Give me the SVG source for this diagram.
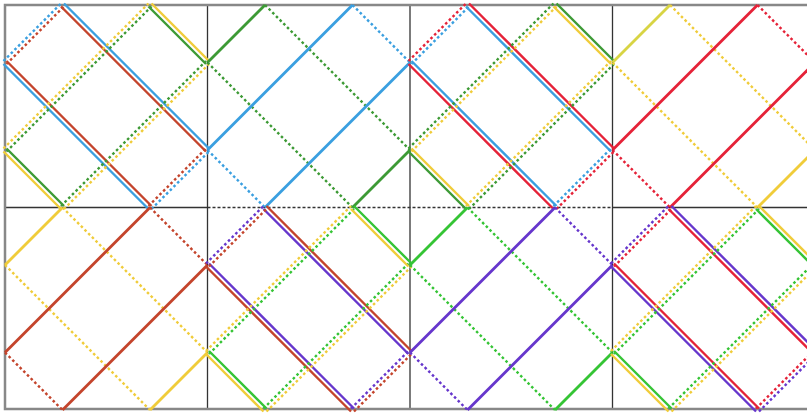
<svg xmlns="http://www.w3.org/2000/svg" xmlns:xlink="http://www.w3.org/1999/xlink" width="807" height="414" viewBox="0 0 807 414">
<style>
use{fill:none}
.s{stroke-width:2.4}
.s1{stroke-width:2.8}
.d{stroke-width:2.4;stroke-dasharray:2.6 2.6}
.bl{stroke:#3a9fe0}
.br{stroke:#c4442c}
.rd{stroke:#e52238}
.dg{stroke:#3d9a35}
.lg{stroke:#35c435}
.ye{stroke:#f0cc3a}
.yo{stroke:#d8d444}
.pu{stroke:#6636cc}
.grid{stroke:#333;stroke-width:1.3;fill:none}
.border{stroke:#888;stroke-width:2.5;fill:none}
</style>
<defs>
<path id="A1" d="M57.5,0L202.5,145"/>
<path id="A2" d="M0,57.5L145,202.5"/>
<path id="A3" d="M0,57.5L57.5,0"/>
<path id="A4" d="M145,202.5L202.5,145"/>
<path id="B1" d="M0,145L145,0"/>
<path id="B2" d="M57.5,202.5L202.5,57.5"/>
<path id="B3" d="M145,0L202.5,57.5"/>
<path id="B4" d="M0,145L57.5,202.5"/>
</defs>
<rect width="807" height="414" fill="#fff"/>
<g id="grid">
<line class="grid" x1="207.5" y1="5" x2="207.5" y2="409"/>
<line class="grid" x1="410" y1="5" x2="410" y2="409"/>
<line class="grid" x1="612.5" y1="5" x2="612.5" y2="409"/>
<line class="grid" x1="5" y1="207.5" x2="207.5" y2="207.5"/>
<line class="grid" x1="207.5" y1="207.5" x2="612.5" y2="207.5" stroke-dasharray="3 2" stroke-width="1"/>
<line class="grid" x1="612.5" y1="207.5" x2="807" y2="207.5"/>
<path class="border" d="M807,5H5V409H807"/>
</g>
<g id="connectors">
<g id="cell1" transform="translate(5,5)">
<use href="#A1" class="s bl" x="1.5" y="-1.5"/><use href="#A1" class="s br" x="-1.5" y="1.5"/>
<use href="#A2" class="s bl" x="-1.5" y="1.5"/><use href="#A2" class="s br" x="1.5" y="-1.5"/>
<use href="#A3" class="d bl" x="-1.5" y="-1.5"/><use href="#A3" class="d br" x="1.5" y="1.5"/>
<use href="#A4" class="d bl" x="1.5" y="1.5"/><use href="#A4" class="d br" x="-1.5" y="-1.5"/>
<use href="#B1" class="d ye" x="-1.5" y="-1.5"/><use href="#B1" class="d dg" x="1.5" y="1.5"/>
<use href="#B2" class="d ye" x="1.5" y="1.5"/><use href="#B2" class="d dg" x="-1.5" y="-1.5"/>
<use href="#B3" class="s ye" x="1.5" y="-1.5"/><use href="#B3" class="s dg" x="-1.5" y="1.5"/>
<use href="#B4" class="s ye" x="-1.5" y="1.5"/><use href="#B4" class="s dg" x="1.5" y="-1.5"/>
</g>
<g id="cell2" transform="translate(207.5,5)">
<use href="#A1" class="d dg"/><use href="#A2" class="d dg"/>
<use href="#A3" class="s1 dg"/><use href="#A4" class="s1 dg"/>
<use href="#B1" class="s1 bl"/><use href="#B2" class="s1 bl"/>
<use href="#B3" class="d bl"/><use href="#B4" class="d bl"/>
</g>
<g id="cell3" transform="translate(410,5)">
<use href="#A1" class="s rd" x="1.5" y="-1.5"/><use href="#A1" class="s bl" x="-1.5" y="1.5"/>
<use href="#A2" class="s rd" x="-1.5" y="1.5"/><use href="#A2" class="s bl" x="1.5" y="-1.5"/>
<use href="#A3" class="d rd" x="-1.5" y="-1.5"/><use href="#A3" class="d bl" x="1.5" y="1.5"/>
<use href="#A4" class="d rd" x="1.5" y="1.5"/><use href="#A4" class="d bl" x="-1.5" y="-1.5"/>
<use href="#B1" class="d dg" x="-1.5" y="-1.5"/><use href="#B1" class="d ye" x="1.5" y="1.5"/>
<use href="#B2" class="d dg" x="1.5" y="1.5"/><use href="#B2" class="d ye" x="-1.5" y="-1.5"/>
<use href="#B3" class="s dg" x="1.5" y="-1.5"/><use href="#B3" class="s ye" x="-1.5" y="1.5"/>
<use href="#B4" class="s dg" x="-1.5" y="1.5"/><use href="#B4" class="s ye" x="1.5" y="-1.5"/>
</g>
<g id="cell4" transform="translate(612.5,5)">
<use href="#A1" class="d ye"/><use href="#A2" class="d ye"/>
<use href="#A3" class="s1 yo"/><use href="#A4" class="s1 ye"/>
<use href="#B1" class="s1 rd"/><use href="#B2" class="s1 rd"/>
<use href="#B3" class="d rd"/><use href="#B4" class="d rd"/>
</g>
<g id="cell5" transform="translate(5,207.5)">
<use href="#A1" class="d ye"/><use href="#A2" class="d ye"/>
<use href="#A3" class="s1 ye"/><use href="#A4" class="s1 ye"/>
<use href="#B1" class="s1 br"/><use href="#B2" class="s1 br"/>
<use href="#B3" class="d br"/><use href="#B4" class="d br"/>
</g>
<g id="cell6" transform="translate(207.5,207.5)">
<use href="#A1" class="s br" x="1.5" y="-1.5"/><use href="#A1" class="s pu" x="-1.5" y="1.5"/>
<use href="#A2" class="s br" x="-1.5" y="1.5"/><use href="#A2" class="s pu" x="1.5" y="-1.5"/>
<use href="#A3" class="d pu" x="-1.5" y="-1.5"/><use href="#A3" class="d br" x="1.5" y="1.5"/>
<use href="#A4" class="d br" x="1.5" y="1.5"/><use href="#A4" class="d pu" x="-1.5" y="-1.5"/>
<use href="#B1" class="d ye" x="-1.5" y="-1.5"/><use href="#B1" class="d lg" x="1.5" y="1.5"/>
<use href="#B2" class="d ye" x="1.5" y="1.5"/><use href="#B2" class="d lg" x="-1.5" y="-1.5"/>
<use href="#B3" class="s lg" x="1.5" y="-1.5"/><use href="#B3" class="s ye" x="-1.5" y="1.5"/>
<use href="#B4" class="s ye" x="-1.5" y="1.5"/><use href="#B4" class="s lg" x="1.5" y="-1.5"/>
</g>
<g id="cell7" transform="translate(410,207.5)">
<use href="#A1" class="d lg"/><use href="#A2" class="d lg"/>
<use href="#A3" class="s1 lg"/><use href="#A4" class="s1 lg"/>
<use href="#B1" class="s1 pu"/><use href="#B2" class="s1 pu"/>
<use href="#B3" class="d pu"/><use href="#B4" class="d pu"/>
</g>
<g id="cell8" transform="translate(612.5,207.5)">
<use href="#A1" class="s pu" x="1.5" y="-1.5"/><use href="#A1" class="s rd" x="-1.5" y="1.5"/>
<use href="#A2" class="s pu" x="-1.5" y="1.5"/><use href="#A2" class="s rd" x="1.5" y="-1.5"/>
<use href="#A3" class="d pu" x="-1.5" y="-1.5"/><use href="#A3" class="d rd" x="1.5" y="1.5"/>
<use href="#A4" class="d pu" x="1.5" y="1.5"/><use href="#A4" class="d rd" x="-1.5" y="-1.5"/>
<use href="#B1" class="d ye" x="-1.5" y="-1.5"/><use href="#B1" class="d lg" x="1.5" y="1.5"/>
<use href="#B2" class="d ye" x="1.5" y="1.5"/><use href="#B2" class="d lg" x="-1.5" y="-1.5"/>
<use href="#B3" class="s ye" x="1.5" y="-1.5"/><use href="#B3" class="s lg" x="-1.5" y="1.5"/>
<use href="#B4" class="s ye" x="-1.5" y="1.5"/><use href="#B4" class="s lg" x="1.5" y="-1.5"/>
</g>
</g>
</svg>
